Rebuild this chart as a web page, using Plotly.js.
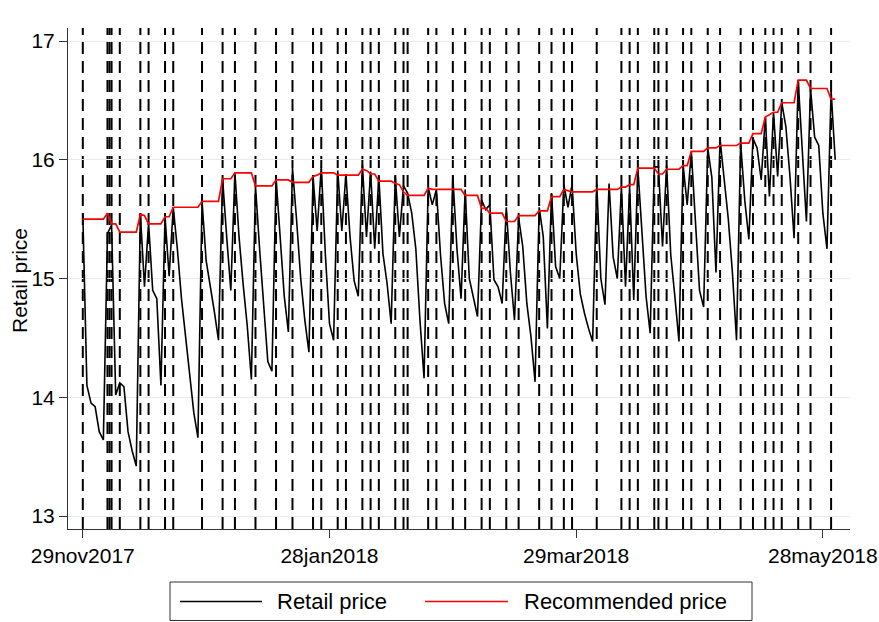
<!DOCTYPE html>
<html>
<head>
<meta charset="utf-8">
<script src="https://cdn.plot.ly/plotly-3.0.1.min.js"></script>
<style>
  html, body { margin: 0; padding: 0; background: #ffffff; }
  #chart { width: 879px; height: 622px; }
</style>
</head>
<body>
<div id="chart"></div>
<script>
// ---------------- data ----------------
const firstDay = '2017-11-29';   // first observation (daily series)

const retailPrice = [
  15.55, 14.10, 13.95, 13.92, 13.71, 13.64, 15.38, 15.45, 14.02, 14.12,
  14.09, 13.71, 13.55, 13.42, 15.55, 14.93, 15.47, 14.90, 14.83, 14.10,
  15.52, 15.02, 15.60, 15.25, 14.83, 14.50, 14.15, 13.87, 13.66, 15.65,
  15.15, 14.95, 14.72, 14.48, 15.84, 15.35, 14.90, 15.89, 15.35, 14.95,
  14.60, 14.15, 15.78, 15.25, 14.75, 14.30, 14.22, 15.85, 15.35, 14.85,
  14.55, 15.93, 15.49, 15.00, 14.65, 14.38, 15.86, 15.40, 15.94, 15.20,
  14.62, 14.48, 15.91, 15.40, 15.88, 15.35, 14.98, 14.85, 15.96, 15.35,
  15.90, 15.25, 15.86, 15.21, 14.96, 14.62, 15.86, 15.35, 15.78, 15.72,
  15.55, 15.25, 14.65, 14.16, 15.77, 15.62, 15.75, 15.20, 14.79, 14.62,
  15.86, 15.25, 14.83, 15.75, 15.00, 14.85, 14.68, 15.66, 15.58, 15.62,
  14.99, 14.93, 14.79, 15.60, 15.05, 14.65, 15.51, 15.27, 14.79, 14.51,
  14.13, 15.60, 15.35, 14.58, 15.72, 15.10, 15.00, 15.79, 15.60, 15.79,
  15.21, 14.87, 14.71, 14.58, 14.47, 15.80, 15.00, 14.78, 15.80, 15.18,
  15.00, 15.77, 14.93, 15.77, 14.82, 15.93, 15.35, 14.85, 14.54, 15.94,
  15.94, 15.27, 15.95, 15.20, 14.85, 14.47, 15.96, 15.62, 16.07, 15.49,
  14.90, 14.76, 16.10, 15.85, 15.05, 16.17, 15.85, 15.50, 15.05, 14.48,
  16.14, 15.66, 15.33, 16.18, 16.10, 15.83, 16.36, 15.69, 16.40, 15.86,
  16.48, 16.28, 15.86, 15.34, 16.67, 16.05, 15.48, 16.60, 16.19, 16.12,
  15.55, 15.25, 16.58, 16.00
];

const recommendedPrice = [
  15.50, 15.50, 15.50, 15.50, 15.50, 15.50, 15.55, 15.46, 15.46, 15.39,
  15.39, 15.39, 15.39, 15.39, 15.54, 15.53, 15.46, 15.46, 15.46, 15.46,
  15.52, 15.52, 15.60, 15.60, 15.60, 15.60, 15.60, 15.60, 15.60, 15.65,
  15.65, 15.65, 15.65, 15.65, 15.84, 15.84, 15.84, 15.89, 15.89, 15.89,
  15.89, 15.89, 15.78, 15.78, 15.78, 15.78, 15.78, 15.83, 15.83, 15.83,
  15.83, 15.81, 15.81, 15.81, 15.81, 15.81, 15.86, 15.87, 15.89, 15.89,
  15.89, 15.89, 15.87, 15.87, 15.87, 15.87, 15.87, 15.87, 15.92, 15.91,
  15.88, 15.88, 15.82, 15.82, 15.82, 15.82, 15.80, 15.79, 15.73, 15.70,
  15.70, 15.70, 15.70, 15.70, 15.76, 15.75, 15.75, 15.75, 15.75, 15.75,
  15.75, 15.75, 15.75, 15.70, 15.70, 15.70, 15.70, 15.59, 15.59, 15.55,
  15.55, 15.55, 15.55, 15.48, 15.48, 15.48, 15.53, 15.53, 15.53, 15.53,
  15.53, 15.57, 15.57, 15.57, 15.69, 15.69, 15.69, 15.75, 15.74, 15.73,
  15.73, 15.73, 15.73, 15.73, 15.73, 15.75, 15.75, 15.75, 15.75, 15.75,
  15.75, 15.77, 15.77, 15.79, 15.79, 15.93, 15.93, 15.93, 15.93, 15.93,
  15.88, 15.88, 15.92, 15.92, 15.92, 15.92, 15.95, 15.95, 16.07, 16.07,
  16.07, 16.07, 16.10, 16.10, 16.10, 16.12, 16.12, 16.12, 16.12, 16.12,
  16.14, 16.14, 16.14, 16.22, 16.22, 16.22, 16.36, 16.38, 16.40, 16.40,
  16.48, 16.48, 16.48, 16.48, 16.67, 16.67, 16.67, 16.60, 16.60, 16.60,
  16.60, 16.60, 16.51, 16.51
];

// dates of recommended-price changes (vertical dashed lines)
const changeDates = [
  '2017-11-29', '2017-12-05', '2017-12-05 12:00', '2017-12-06', '2017-12-08',
  '2017-12-13', '2017-12-15', '2017-12-19', '2017-12-21', '2017-12-28',
  '2018-01-02', '2018-01-05', '2018-01-10', '2018-01-15', '2018-01-19',
  '2018-01-24', '2018-01-26', '2018-01-30', '2018-02-01', '2018-02-05',
  '2018-02-07', '2018-02-09', '2018-02-13', '2018-02-15', '2018-02-16',
  '2018-02-21', '2018-02-23', '2018-02-27', '2018-03-02', '2018-03-06',
  '2018-03-08', '2018-03-12', '2018-03-15', '2018-03-20', '2018-03-23',
  '2018-03-26', '2018-03-28', '2018-04-03', '2018-04-09', '2018-04-11',
  '2018-04-13', '2018-04-17', '2018-04-18', '2018-04-20', '2018-04-24',
  '2018-04-26', '2018-04-30', '2018-05-03', '2018-05-08', '2018-05-11',
  '2018-05-14', '2018-05-16', '2018-05-18', '2018-05-22', '2018-05-25',
  '2018-05-30'
];

const xTickDates  = ['2017-11-29', '2018-01-28', '2018-03-29', '2018-05-28'];
const xTickLabels = ['29nov2017', '28jan2018', '29mar2018', '28may2018'];
const yTickValues = [13, 14, 15, 16, 17];
const yTitle = 'Retail price';

// ---------------- build ----------------
const dates = [];
{
  const t0 = Date.parse(firstDay + 'T00:00:00Z');
  for (let i = 0; i < retailPrice.length; i++) {
    dates.push(new Date(t0 + i * 86400000).toISOString().slice(0, 10));
  }
}

const FONT = 'Liberation Sans, Arial, Helvetica, sans-serif';

const traces = [
  {
    x: dates, y: retailPrice, type: 'scatter', mode: 'lines',
    name: 'Retail price',
    line: { color: '#000000', width: 1.6 },
    hoverinfo: 'skip'
  },
  {
    x: dates, y: recommendedPrice, type: 'scatter', mode: 'lines',
    name: 'Recommended price',
    line: { color: '#ff0000', width: 1.7 },
    hoverinfo: 'skip'
  }
];

const shapes = changeDates.map(d => ({
  type: 'line', xref: 'x', yref: 'paper',
  x0: d, x1: d, y0: 0, y1: 1,
  layer: 'between',
  line: { color: '#000000', width: 2, dash: '12px,7px' }
}));

// legend box (drawn in paper coordinates below the plot)
const L = { l: 68, r: 29, t: 28, b: 93 };
const PW = 879 - L.l - L.r, PH = 622 - L.t - L.b;
const px = v => (v - L.l) / PW;
const py = v => (622 - L.b - v) / PH;

shapes.push({
  type: 'rect', xref: 'paper', yref: 'paper',
  x0: px(170), x1: px(752), y0: py(620.5), y1: py(582),
  line: { color: '#333333', width: 1 }, fillcolor: 'rgba(0,0,0,0)'
});
shapes.push({
  type: 'line', xref: 'paper', yref: 'paper',
  x0: px(180), x1: px(262), y0: py(601.5), y1: py(601.5),
  line: { color: '#000000', width: 1.6 }
});
shapes.push({
  type: 'line', xref: 'paper', yref: 'paper',
  x0: px(425), x1: px(508), y0: py(601.5), y1: py(601.5),
  line: { color: '#ff0000', width: 1.7 }
});

const annotations = [
  {
    xref: 'paper', yref: 'paper', x: px(275), y: py(601.5),
    xanchor: 'left', yanchor: 'middle', showarrow: false,
    text: traces[0].name, font: { family: FONT, size: 22, color: '#000' }
  },
  {
    xref: 'paper', yref: 'paper', x: px(522), y: py(601.5),
    xanchor: 'left', yanchor: 'middle', showarrow: false,
    text: traces[1].name, font: { family: FONT, size: 22, color: '#000' }
  },
  {
    xref: 'paper', yref: 'paper', x: px(19), y: py(281),
    xanchor: 'center', yanchor: 'middle', showarrow: false, textangle: -90,
    text: yTitle, font: { family: FONT, size: 21, color: '#000' }
  }
];

const layout = {
  width: 879, height: 622,
  margin: L,
  paper_bgcolor: '#ffffff', plot_bgcolor: '#ffffff',
  showlegend: false,
  font: { family: FONT, size: 21, color: '#000000' },
  xaxis: {
    type: 'date',
    range: ['2017-11-25 09:36', '2018-06-03 14:24'],
    tickmode: 'array', tickvals: xTickDates, ticktext: xTickLabels,
    ticks: 'outside', ticklen: 8, tickwidth: 1, tickcolor: '#333',
    showline: true, linecolor: '#333', linewidth: 1,
    showgrid: false, zeroline: false,
    tickfont: { family: FONT, size: 21, color: '#000' }
  },
  yaxis: {
    range: [12.8905, 17.1095],
    tickmode: 'array', tickvals: yTickValues,
    ticks: 'outside', ticklen: 8, tickwidth: 1, tickcolor: '#333',
    showline: true, linecolor: '#333', linewidth: 1,
    showgrid: true, gridcolor: '#e4ecef', gridwidth: 1,
    zeroline: false,
    tickfont: { family: FONT, size: 21, color: '#000' }
  },
  shapes: shapes,
  annotations: annotations
};

Plotly.newPlot('chart', traces, layout, { displayModeBar: false, staticPlot: true });
</script>
</body>
</html>
